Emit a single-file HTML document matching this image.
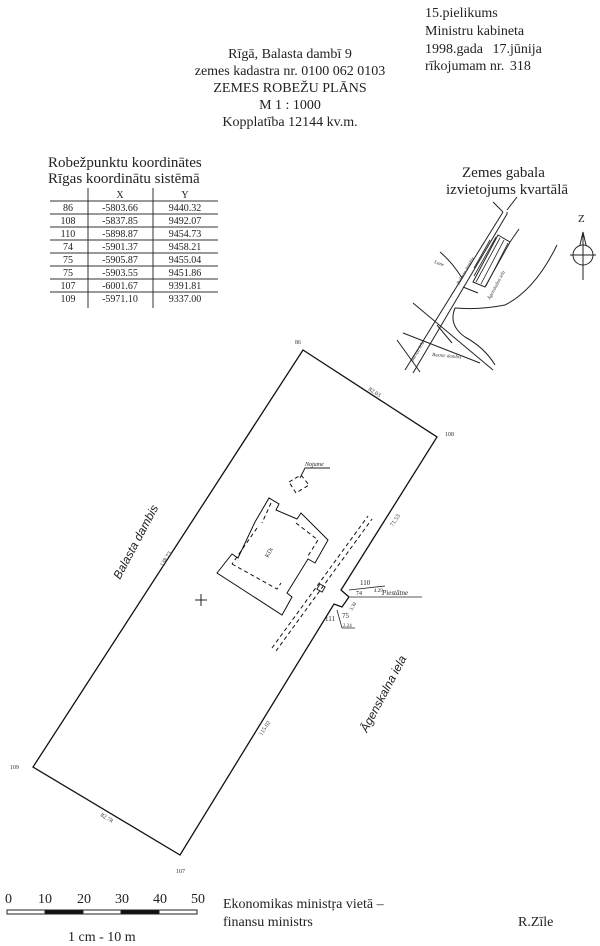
<!DOCTYPE html>
<html><head><meta charset="utf-8"><style>
html,body{margin:0;padding:0;background:#fff;}
svg{display:block;font-family:"Liberation Serif",serif;}
</style></head><body>
<svg width="600" height="946" viewBox="0 0 600 946" xmlns="http://www.w3.org/2000/svg">
<rect width="600" height="946" fill="#fff"/>
<g fill="#222" font-size="14">
<text x="425" y="17">15.pielikums</text>
<text x="425" y="35">Ministru kabineta</text>
<text x="425" y="53">1998.gada <tspan dx="6">17.jūnija</tspan></text>
<text x="425" y="70">rīkojumam nr. <tspan dx="2">318</tspan></text>
<g text-anchor="middle">
<text x="290" y="58">Rīgā, Balasta dambī 9</text>
<text x="290" y="75">zemes kadastra nr. 0100 062 0103</text>
<text x="290" y="92">ZEMES ROBEŽU PLĀNS</text>
<text x="290" y="109">M 1 : 1000</text>
<text x="290" y="126">Kopplatība 12144 kv.m.</text>
</g>
<text x="48" y="167" font-size="15">Robežpunktu koordinātes</text>
<text x="48" y="183" font-size="15">Rīgas koordinātu sistēmā</text>
<text x="462" y="177" font-size="15">Zemes gabala</text>
<text x="446" y="194" font-size="15">izvietojums kvartālā</text>
</g>
<!-- table -->
<g stroke="#333" stroke-width="1">
<line x1="88" y1="188" x2="88" y2="308"/><line x1="153" y1="188" x2="153" y2="308"/>
<line x1="50" y1="201" x2="218" y2="201"/><line x1="50" y1="214" x2="218" y2="214"/>
<line x1="50" y1="227" x2="218" y2="227"/><line x1="50" y1="240" x2="218" y2="240"/>
<line x1="50" y1="253" x2="218" y2="253"/><line x1="50" y1="266" x2="218" y2="266"/>
<line x1="50" y1="279" x2="218" y2="279"/><line x1="50" y1="292" x2="218" y2="292"/>
</g>
<g font-size="10" fill="#222" text-anchor="middle">
<text x="120" y="198">X</text><text x="185" y="198">Y</text>
<text x="68" y="211">86</text><text x="120" y="211">-5803.66</text><text x="185" y="211">9440.32</text>
<text x="68" y="224">108</text><text x="120" y="224">-5837.85</text><text x="185" y="224">9492.07</text>
<text x="68" y="237">110</text><text x="120" y="237">-5898.87</text><text x="185" y="237">9454.73</text>
<text x="68" y="250">74</text><text x="120" y="250">-5901.37</text><text x="185" y="250">9458.21</text>
<text x="68" y="263">75</text><text x="120" y="263">-5905.87</text><text x="185" y="263">9455.04</text>
<text x="68" y="276">75</text><text x="120" y="276">-5903.55</text><text x="185" y="276">9451.86</text>
<text x="68" y="289">107</text><text x="120" y="289">-6001.67</text><text x="185" y="289">9391.81</text>
<text x="68" y="302">109</text><text x="120" y="302">-5971.10</text><text x="185" y="302">9337.00</text>
</g>
<!-- inset map -->
<g stroke="#222" stroke-width="1" fill="none">
<path d="M493 202 L503 212"/><path d="M517 197 L507 210"/>
<path d="M503 212 L405 370"/><path d="M507 212 L507 214 L413 373"/>
<path d="M498 235 L510 242 L485 287 L473 282 Z"/>
<path d="M510 242 L519 229"/>
<path d="M440 252 Q452 262 462 278"/>
<path d="M463 287 L478 293"/>
<path d="M557 245 Q535 290 505 305 Q480 310 455 308 Q448 325 465 337 Q485 348 495 365"/>
<path d="M413 303 L493 370"/>
<path d="M403 333 L480 363"/>
<path d="M397 340 L420 372"/>
<path d="M437 325 L452 343"/>
</g>
<g stroke="#222" stroke-width="0.8">
<line x1="476" y1="282" x2="500" y2="238"/><line x1="481" y1="284" x2="504" y2="240"/><line x1="486" y1="286" x2="508" y2="243"/><line x1="474" y1="276" x2="496" y2="237"/><line x1="474" y1="268" x2="490" y2="240"/>
</g>
<g font-size="5" fill="#333" font-style="italic">
<text x="434" y="263" transform="rotate(20 434 263)">Lane</text>
<text x="459" y="285" transform="rotate(-60 459 285)">Balasta dambis</text>
<text x="490" y="300" transform="rotate(-62 490 300)">Āgenskalna iela</text>
<text x="432" y="356" transform="rotate(5 432 356)">Baznīc dambis</text>
<text x="413" y="362" transform="rotate(-60 413 362)">Bāriņu iela</text>
</g>
<!-- compass -->
<g stroke="#222" fill="none">
<circle cx="583" cy="255" r="10"/><line x1="570" y1="255" x2="596" y2="255"/>
<line x1="583" y1="232" x2="583" y2="280"/><path d="M580 245 L583 232 L586 245"/>
</g>
<text x="578" y="222" font-size="11" fill="#222">Z</text>
<!-- plot -->
<g stroke="#111" stroke-width="1.3" fill="none">
<path d="M303 350 L437 437 L341 590 L349 597 L342 607 L334 604 L180 855 L33 767 Z"/>
</g>
<g font-size="6" fill="#333">
<text x="295" y="344">86</text><text x="445" y="436">108</text>
<text x="10" y="769">109</text><text x="176" y="873">107</text>
<text x="368" y="390" transform="rotate(33 368 390)">82.03</text>
<text x="393" y="527" transform="rotate(-57 393 527)">71.53</text>
<text x="163" y="567" transform="rotate(-58 163 567)">138.73</text>
<text x="262" y="736" transform="rotate(-58 262 736)">115.02</text>
<text x="100" y="816" transform="rotate(31 100 816)">82.78</text>
</g>
<g font-size="12" fill="#222" font-style="italic" font-family="Liberation Sans,sans-serif">
<text x="120" y="580" transform="rotate(-62 120 580)">Balasta dambis</text>
<text x="367" y="733" transform="rotate(-62 367 733)">Āgenskalna iela</text>
</g>
<!-- building -->
<g stroke="#111" stroke-width="1" fill="none">
<path d="M217 573 L232 554 L238 558 L255 522 L269 498 L279 504 L276 510 L297 519 L301 513 L328 540 L315 563 L308 559 L287 593 L292 597 L282 615 Z"/>
</g>
<g stroke="#111" stroke-width="1" fill="none" stroke-dasharray="4,3">
<path d="M271 503 L262 523"/><path d="M296 523 L318 540 L308 556"/>
<path d="M232 564 L277 589 L281 583"/><path d="M257 528 L232 564"/>
<path d="M289 482 L301 475 L309 485 L296 493 Z"/>
<path d="M272 648 L368 516"/><path d="M276 651 L372 519"/>
</g>
<text x="268" y="558" font-size="6" fill="#333" transform="rotate(-60 268 558)">KDt</text>
<path d="M300 478 L305 468 L330 468" stroke="#222" fill="none"/>
<text x="305" y="466" font-size="6" font-style="italic" fill="#222">Nojume</text>
<rect x="318" y="585" width="6" height="6" stroke="#222" fill="none" transform="rotate(30 321 588)"/>
<g stroke="#222" stroke-width="0.8" fill="none">
<path d="M349 590 L385 586"/><path d="M350 597 L422 597"/><path d="M337 610 L342 628 L355 628"/>
</g>
<g font-size="7" fill="#222">
<text x="360" y="585">110</text><text x="374" y="592" font-size="5">4.29</text>
<text x="356" y="595" font-size="6">74</text><text x="382" y="595" font-style="italic" font-size="7">Piestātne</text>
<text x="342" y="618">75</text><text x="325" y="621">111</text><text x="343" y="627" font-size="5">2.24</text>
<text x="352" y="611" font-size="5" transform="rotate(-60 352 611)">3.30</text>
</g>
<path d="M195 600 H207 M201 594 V606" stroke="#222"/>
<!-- scale bar -->
<g font-size="14" fill="#222">
<text x="5" y="903">0</text><text x="38" y="903">10</text><text x="77" y="903">20</text>
<text x="115" y="903">30</text><text x="153" y="903">40</text><text x="191" y="903">50</text>
<text x="68" y="941">1 cm - 10 m</text>
<text x="223" y="908">Ekonomikas ministŗa vietā –</text>
<text x="223" y="926">finansu ministrs</text>
<text x="518" y="926">R.Zīle</text>
</g>
<g stroke="#222" stroke-width="1">
<rect x="7" y="910" width="38" height="4" fill="#fff"/><rect x="45" y="910" width="38" height="4" fill="#111"/>
<rect x="83" y="910" width="38" height="4" fill="#fff"/><rect x="121" y="910" width="38" height="4" fill="#111"/>
<rect x="159" y="910" width="38" height="4" fill="#fff"/>
</g>
</svg>
</body></html>
